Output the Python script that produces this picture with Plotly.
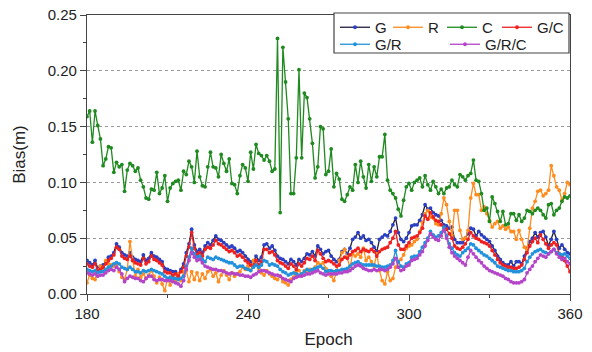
import plotly.graph_objects as go

epochs = list(range(180, 361))

G = [0.030, 0.028, 0.026, 0.030, 0.023, 0.025, 0.026, 0.029, 0.033, 0.034,
     0.037, 0.045, 0.042, 0.037, 0.035, 0.034, 0.037, 0.033, 0.031, 0.030,
     0.029, 0.035, 0.030, 0.032, 0.037, 0.034, 0.033, 0.031, 0.029, 0.023,
     0.022, 0.021, 0.020, 0.020, 0.018, 0.022, 0.027, 0.037, 0.045, 0.058,
     0.044, 0.038, 0.040, 0.037, 0.043, 0.046, 0.044, 0.048, 0.052, 0.049,
     0.048, 0.046, 0.044, 0.042, 0.043, 0.041, 0.038, 0.039, 0.037, 0.034,
     0.031, 0.029, 0.028, 0.034, 0.030, 0.033, 0.044, 0.045, 0.041, 0.043,
     0.039, 0.034, 0.032, 0.031, 0.029, 0.027, 0.031, 0.029, 0.026, 0.031,
     0.029, 0.032, 0.036, 0.035, 0.038, 0.034, 0.043, 0.040, 0.036, 0.038,
     0.039, 0.034, 0.031, 0.029, 0.031, 0.038, 0.040, 0.036, 0.041, 0.049,
     0.051, 0.055, 0.050, 0.052, 0.048, 0.049, 0.046, 0.042, 0.038, 0.049,
     0.051, 0.053, 0.052, 0.056, 0.062, 0.068, 0.055, 0.049, 0.047, 0.050,
     0.055, 0.061, 0.062, 0.062, 0.066, 0.071, 0.080, 0.076, 0.077, 0.073,
     0.071, 0.070, 0.066, 0.062, 0.061, 0.059, 0.060, 0.049, 0.046, 0.046,
     0.046, 0.050, 0.054, 0.059, 0.058, 0.052, 0.056, 0.053, 0.051, 0.049,
     0.047, 0.043, 0.039, 0.034, 0.031, 0.028, 0.026, 0.026, 0.029, 0.025,
     0.029, 0.029, 0.027, 0.034, 0.041, 0.047, 0.050, 0.055, 0.051, 0.055,
     0.056, 0.051, 0.043, 0.049, 0.056, 0.049, 0.041, 0.044, 0.040, 0.037,
     0.036]

R = [0.010, 0.017, 0.014, 0.013, 0.021, 0.025, 0.022, 0.030, 0.027, 0.026,
     0.025, 0.027, 0.020, 0.015, 0.013, 0.022, 0.047, 0.030, 0.016, 0.022,
     0.015, 0.018, 0.014, 0.017, 0.021, 0.016, 0.010, 0.015, 0.009, 0.003,
     0.014, 0.008, 0.016, 0.011, 0.018, 0.012, 0.020, 0.021, 0.011, 0.020,
     0.013, 0.019, 0.012, 0.018, 0.014, 0.020, 0.022, 0.016, 0.019, 0.011,
     0.017, 0.021, 0.017, 0.013, 0.019, 0.016, 0.018, 0.020, 0.024, 0.022,
     0.025, 0.021, 0.030, 0.026, 0.023, 0.019, 0.017, 0.021, 0.018, 0.016,
     0.014, 0.013, 0.016, 0.011, 0.010, 0.008, 0.013, 0.015, 0.020, 0.021,
     0.018, 0.021, 0.019, 0.022, 0.021, 0.024, 0.028, 0.026, 0.028, 0.023,
     0.020, 0.016, 0.012, 0.021, 0.030, 0.037, 0.040, 0.033, 0.024, 0.036,
     0.034, 0.036, 0.033, 0.041, 0.030, 0.033, 0.029, 0.025, 0.036, 0.021,
     0.012, 0.009, 0.020, 0.012, 0.014, 0.024, 0.028, 0.031, 0.035, 0.041,
     0.043, 0.044, 0.047, 0.049, 0.056, 0.064, 0.072, 0.075, 0.069, 0.068,
     0.063, 0.062, 0.072, 0.086, 0.080, 0.065, 0.053, 0.075, 0.075, 0.057,
     0.049, 0.050, 0.057, 0.086, 0.099, 0.089, 0.089, 0.075, 0.078, 0.072,
     0.066, 0.060, 0.063, 0.065, 0.059, 0.061, 0.058, 0.060, 0.056, 0.056,
     0.049, 0.057, 0.049, 0.042, 0.040, 0.059, 0.077, 0.083, 0.092, 0.093,
     0.088, 0.090, 0.093, 0.115, 0.106, 0.096, 0.093, 0.084, 0.090, 0.100,
     0.098]

C = [0.159, 0.164, 0.136, 0.164, 0.151, 0.139, 0.115, 0.121, 0.132, 0.131,
     0.109, 0.118, 0.114, 0.116, 0.092, 0.111, 0.117, 0.115, 0.110, 0.113,
     0.102, 0.096, 0.086, 0.085, 0.094, 0.093, 0.109, 0.090, 0.095, 0.106,
     0.083, 0.095, 0.099, 0.101, 0.102, 0.093, 0.110, 0.107, 0.119, 0.114,
     0.100, 0.128, 0.105, 0.097, 0.096, 0.114, 0.127, 0.114, 0.113, 0.105,
     0.125, 0.117, 0.110, 0.121, 0.099, 0.098, 0.090, 0.106, 0.116, 0.113,
     0.101, 0.127, 0.112, 0.134, 0.126, 0.124, 0.120, 0.124, 0.119, 0.110,
     0.112, 0.229, 0.073, 0.221, 0.190, 0.157, 0.090, 0.090, 0.122, 0.201,
     0.122, 0.180, 0.176, 0.157, 0.135, 0.104, 0.114, 0.150, 0.148, 0.107,
     0.110, 0.130, 0.096, 0.108, 0.103, 0.085, 0.083, 0.089, 0.096, 0.093,
     0.116, 0.100, 0.119, 0.105, 0.095, 0.116, 0.101, 0.114, 0.105, 0.123,
     0.123, 0.143, 0.102, 0.093, 0.090, 0.086, 0.076, 0.070, 0.084, 0.096,
     0.099, 0.093, 0.100, 0.102, 0.104, 0.096, 0.106, 0.098, 0.093, 0.101,
     0.096, 0.090, 0.094, 0.090, 0.095, 0.096, 0.102, 0.098, 0.096, 0.107,
     0.105, 0.102, 0.106, 0.108, 0.120, 0.102, 0.101, 0.090, 0.075, 0.077,
     0.065, 0.087, 0.081, 0.074, 0.065, 0.074, 0.062, 0.063, 0.072, 0.072,
     0.066, 0.071, 0.065, 0.068, 0.075, 0.074, 0.072, 0.075, 0.077, 0.075,
     0.071, 0.068, 0.080, 0.081, 0.071, 0.075, 0.077, 0.083, 0.087, 0.086,
     0.088]

GC = [0.027, 0.025, 0.024, 0.027, 0.021, 0.022, 0.024, 0.027, 0.030, 0.032,
      0.035, 0.042, 0.040, 0.034, 0.032, 0.031, 0.034, 0.030, 0.028, 0.027,
      0.026, 0.032, 0.027, 0.029, 0.034, 0.031, 0.030, 0.028, 0.026, 0.020,
      0.019, 0.019, 0.017, 0.018, 0.016, 0.020, 0.024, 0.034, 0.042, 0.055,
      0.041, 0.035, 0.037, 0.034, 0.040, 0.042, 0.041, 0.044, 0.048, 0.045,
      0.044, 0.042, 0.040, 0.038, 0.039, 0.037, 0.034, 0.035, 0.033, 0.030,
      0.028, 0.026, 0.025, 0.030, 0.026, 0.029, 0.040, 0.040, 0.037, 0.038,
      0.035, 0.030, 0.028, 0.027, 0.025, 0.023, 0.027, 0.025, 0.022, 0.027,
      0.025, 0.028, 0.032, 0.031, 0.034, 0.030, 0.039, 0.036, 0.032, 0.029,
      0.030, 0.029, 0.027, 0.025, 0.026, 0.031, 0.033, 0.032, 0.035, 0.038,
      0.039, 0.041, 0.038, 0.040, 0.039, 0.038, 0.040, 0.038, 0.034, 0.038,
      0.040, 0.041, 0.042, 0.046, 0.050, 0.056, 0.044, 0.040, 0.040, 0.043,
      0.046, 0.050, 0.051, 0.052, 0.055, 0.059, 0.070, 0.067, 0.073, 0.069,
      0.066, 0.065, 0.062, 0.060, 0.058, 0.054, 0.050, 0.043, 0.041, 0.040,
      0.042, 0.045, 0.049, 0.055, 0.052, 0.050, 0.049, 0.047, 0.046, 0.045,
      0.043, 0.039, 0.035, 0.031, 0.028, 0.026, 0.025, 0.024, 0.024, 0.023,
      0.023, 0.024, 0.026, 0.031, 0.037, 0.043, 0.047, 0.050, 0.046, 0.053,
      0.049, 0.045, 0.041, 0.044, 0.046, 0.044, 0.036, 0.034, 0.030, 0.025,
      0.020]

GR = [0.022, 0.021, 0.020, 0.021, 0.019, 0.020, 0.020, 0.022, 0.024, 0.025,
      0.027, 0.028, 0.027, 0.024, 0.023, 0.022, 0.024, 0.022, 0.020, 0.020,
      0.019, 0.021, 0.020, 0.021, 0.022, 0.021, 0.020, 0.019, 0.018, 0.016,
      0.014, 0.015, 0.014, 0.014, 0.013, 0.014, 0.016, 0.025, 0.033, 0.041,
      0.036, 0.033, 0.034, 0.031, 0.029, 0.033, 0.032, 0.031, 0.033, 0.032,
      0.031, 0.030, 0.029, 0.028, 0.028, 0.026, 0.024, 0.025, 0.025, 0.023,
      0.022, 0.021, 0.024, 0.026, 0.024, 0.026, 0.030, 0.029, 0.026, 0.027,
      0.026, 0.025, 0.022, 0.020, 0.019, 0.017, 0.018, 0.019, 0.018, 0.017,
      0.018, 0.020, 0.022, 0.021, 0.022, 0.023, 0.024, 0.025, 0.023, 0.020,
      0.021, 0.021, 0.020, 0.021, 0.021, 0.022, 0.022, 0.023, 0.025, 0.027,
      0.028, 0.029, 0.027, 0.026, 0.026, 0.026, 0.026, 0.026, 0.025, 0.025,
      0.024, 0.024, 0.025, 0.026, 0.030, 0.039, 0.029, 0.025, 0.024, 0.027,
      0.028, 0.033, 0.034, 0.034, 0.038, 0.042, 0.046, 0.050, 0.056, 0.053,
      0.051, 0.052, 0.055, 0.060, 0.052, 0.045, 0.041, 0.037, 0.035, 0.034,
      0.037, 0.039, 0.041, 0.045, 0.044, 0.041, 0.039, 0.037, 0.035, 0.034,
      0.032, 0.030, 0.028, 0.025, 0.024, 0.023, 0.022, 0.021, 0.021, 0.020,
      0.020, 0.020, 0.021, 0.023, 0.029, 0.033, 0.036, 0.038, 0.039, 0.040,
      0.038, 0.037, 0.036, 0.038, 0.040, 0.037, 0.036, 0.035, 0.036, 0.034,
      0.032]

GRC = [0.019, 0.018, 0.017, 0.018, 0.016, 0.017, 0.017, 0.019, 0.021, 0.022,
       0.021, 0.024, 0.022, 0.018, 0.011, 0.014, 0.016, 0.015, 0.014, 0.014,
       0.012, 0.011, 0.014, 0.016, 0.016, 0.013, 0.012, 0.013, 0.013, 0.012,
       0.012, 0.012, 0.011, 0.010, 0.009, 0.007, 0.012, 0.022, 0.030, 0.037,
       0.033, 0.030, 0.031, 0.028, 0.025, 0.024, 0.023, 0.022, 0.022, 0.021,
       0.021, 0.020, 0.019, 0.018, 0.019, 0.018, 0.018, 0.017, 0.017, 0.016,
       0.016, 0.015, 0.017, 0.018, 0.020, 0.021, 0.021, 0.020, 0.019, 0.018,
       0.017, 0.017, 0.016, 0.014, 0.013, 0.012, 0.011, 0.014, 0.015, 0.016,
       0.016, 0.017, 0.018, 0.018, 0.019, 0.020, 0.021, 0.019, 0.018, 0.017,
       0.018, 0.018, 0.018, 0.018, 0.019, 0.019, 0.020, 0.020, 0.021, 0.023,
       0.025, 0.026, 0.025, 0.023, 0.022, 0.021, 0.021, 0.022, 0.021, 0.022,
       0.022, 0.021, 0.022, 0.024, 0.027, 0.032, 0.024, 0.021, 0.022, 0.025,
       0.026, 0.030, 0.031, 0.032, 0.035, 0.038, 0.043, 0.048, 0.054, 0.051,
       0.049, 0.048, 0.052, 0.057, 0.050, 0.042, 0.037, 0.034, 0.032, 0.030,
       0.028, 0.026, 0.033, 0.039, 0.036, 0.033, 0.030, 0.028, 0.025, 0.023,
       0.021, 0.020, 0.019, 0.018, 0.017, 0.016, 0.014, 0.013, 0.011, 0.010,
       0.010, 0.010, 0.011, 0.013, 0.019, 0.022, 0.025, 0.029, 0.032, 0.035,
       0.034, 0.033, 0.036, 0.038, 0.040, 0.036, 0.033, 0.031, 0.032, 0.029,
       0.027]

x_ticks = [180, 240, 300, 360]
y_ticks = [0.00, 0.05, 0.10, 0.15, 0.20, 0.25]

# name, values, line colour, marker colour, legend id, legend slot (left px, top px)
series = [
    ("G", G, "#1e1e3a", "#2b3fc4", "legend", (335, 11)),
    ("R", R, "#ff8c1f", "#ff8c1f", "legend2", (388, 11)),
    ("C", C, "#1f8a1f", "#1f8a1f", "legend3", (442, 11)),
    ("G/C", GC, "#ee2020", "#ee2020", "legend4", (497, 11)),
    ("G/R", GR, "#2291dc", "#2291dc", "legend5", (335, 28)),
    ("G/R/C", GRC, "#b444c8", "#b444c8", "legend6", (445, 28)),
]

FONT = "Liberation Sans, Arial"
W, H = 592, 352

fig = go.Figure()
for name, vals, lc, mc, lg, _ in series:
    fig.add_trace(go.Scatter(
        x=epochs, y=vals, name=name, mode="lines+markers",
        line=dict(color=lc, width=1.3),
        marker=dict(color=mc, size=3.8, symbol="circle"),
        legend=lg,
    ))

axis_common = dict(
    showline=True, linecolor="#444", linewidth=1.3, mirror=True,
    ticks="outside", ticklen=6, tickcolor="#444", tickwidth=1.2,
    tickfont=dict(family=FONT, size=15, color="#222"),
    zeroline=False, automargin=False,
)

fig.update_xaxes(
    range=[180, 360], tickvals=x_ticks, showgrid=False,
    minor=dict(ticks="outside", ticklen=3, dtick=30, tick0=180, tickcolor="#444", showgrid=False),
    title=dict(text="Epoch", font=dict(family=FONT, size=17, color="#222"), standoff=11),
    **axis_common,
)
fig.update_yaxes(
    range=[0, 0.25], tickvals=y_ticks, tickformat=".2f",
    showgrid=True, gridcolor="#999", griddash="dot", gridwidth=1,
    minor=dict(ticks="outside", ticklen=3, dtick=0.025, tick0=0, tickcolor="#444", showgrid=False),
    title=dict(text="Bias(m)", font=dict(family=FONT, size=17, color="#222"), standoff=17),
    **axis_common,
)

legend_layouts = {}
for name, _, _, _, lg, (lx, ly) in series:
    legend_layouts[lg] = dict(
        orientation="h", xref="container", yref="container",
        x=lx / W, y=1 - ly / H, xanchor="left", yanchor="top",
        bgcolor="rgba(0,0,0,0)", borderwidth=0,
        font=dict(family=FONT, size=15, color="#222"),
        itemwidth=30,
    )

fig.update_layout(
    width=W, height=H,
    margin=dict(l=87, r=22, t=15, b=58, autoexpand=False),
    paper_bgcolor="white", plot_bgcolor="white",
    showlegend=True,
    shapes=[dict(
        type="rect", xref="paper", yref="paper",
        x0=(334 - 87) / 483, x1=(569 - 87) / 483,
        y0=(294 - 53) / 279, y1=(294 - 13) / 279,
        fillcolor="white", line=dict(color="#444", width=1.2), layer="above",
    )],
    **legend_layouts,
)

fig.write_html("out.html", config={"displayModeBar": False},
               post_script="document.body.style.margin='0px';")
